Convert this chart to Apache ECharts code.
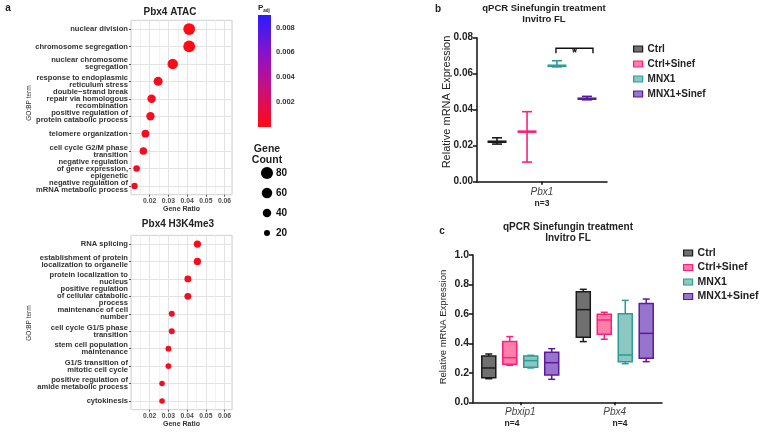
<!DOCTYPE html>
<html>
<head>
<meta charset="utf-8">
<script src="https://cdn.jsdelivr.net/npm/echarts@6/dist/echarts.min.js"></script>
<style>
html, body { margin: 0; padding: 0; background: #fff; }
#chart { width: 766px; height: 434px; }
</style>
</head>
<body>
<div id="chart"></div>
<script>
// panel a - GO:BP dot plots
var atacTerms = ['nuclear division', 'chromosome segregation', 'nuclear chromosome\nsegregation',
  'response to endoplasmic\nreticulum stress', 'double\u2212strand break\nrepair via homologous\nrecombination',
  'positive regulation of\nprotein catabolic process', 'telomere organization',
  'cell cycle G2/M phase\ntransition', 'negative regulation\nof gene expression,\nepigenetic',
  'negative regulation of\nmRNA metabolic process'];
var atacRatio = [0.0411, 0.0411, 0.0323, 0.0245, 0.0210, 0.0204, 0.0177, 0.0166, 0.0130, 0.0119];
var atacCount = [76, 76, 60, 45, 39, 38, 33, 31, 24, 22];
var atacPadj = [0.00002, 0.00002, 0.0001, 0.0002, 0.0003, 0.0003, 0.0004, 0.0004, 0.0005, 0.0005];

var h3kTerms = ['RNA splicing', 'establishment of protein\nlocalization to organelle',
  'protein localization to\nnucleus', 'positive regulation\nof cellular catabolic\nprocess',
  'maintenance of cell\nnumber', 'cell cycle G1/S phase\ntransition', 'stem cell population\nmaintenance',
  'G1/S transition of\nmitotic cell cycle', 'positive regulation of\namide metabolic process', 'cytokinesis'];
var h3kRatio = [0.0455, 0.0455, 0.0404, 0.0404, 0.0318, 0.0318, 0.0300, 0.0300, 0.0266, 0.0266];
var h3kCount = [29, 29, 26, 26, 20, 20, 19, 19, 17, 17];
var h3kPadj = [0.0001, 0.0001, 0.0002, 0.0002, 0.0003, 0.0003, 0.0003, 0.0003, 0.0004, 0.0004];

var padjTicks = [0.002, 0.004, 0.006, 0.008];
var countLegend = ['20', '40', '60', '80'];

// panel b / c - qPCR
var groups = ['Ctrl', 'Ctrl+Sinef', 'MNX1', 'MNX1+Sinef'];
var bCategories = ['Pbx1'];
// [mean, low, high]
var bCtrl = [0.0222, 0.0209, 0.0244];
var bCtrlSinef = [0.0278, 0.0109, 0.0389];
var bMnx1 = [0.0644, 0.0638, 0.0672];
var bMnx1Sinef = [0.0461, 0.0455, 0.0474];
var bSig = [0.0741, 0.0713];

var cCategories = ['Pbxip1', 'Pbx4'];
// [min, q1, median, q3, max] per category
var cCtrl = [[0.160, 0.167, 0.233, 0.314, 0.328], [0.412, 0.441, 0.629, 0.751, 0.767]];
var cCtrlSinef = [[0.251, 0.258, 0.303, 0.412, 0.446], [0.428, 0.462, 0.559, 0.597, 0.611]];
var cMnx1 = [[0.233, 0.238, 0.283, 0.314, 0.319], [0.262, 0.276, 0.321, 0.602, 0.692]];
var cMnx1Sinef = [[0.156, 0.186, 0.269, 0.339, 0.364], [0.276, 0.299, 0.468, 0.670, 0.701]];

var strokeCol = ['#1a1a1a', '#ff1f7a', '#2e9c96', '#5b1a9c'];
var fillCol = ['#707070', '#ff7fab', '#8cc7c2', '#9875cc'];
var bOffsets = [-0.346, -0.115, 0.115, 0.346];
var cOffsets = [-0.333, -0.111, 0.111, 0.333];

var font = 'Liberation Sans, Arial, sans-serif';
var chart = echarts.init(document.getElementById('chart'));

function dotSize(v) {
  return 1.35 * Math.sqrt(v[2]);
}

function dotGrid(top, bottom) {
  return { left: 131, width: 101, top: top, height: bottom - top, show: true,
    borderColor: '#cfcfcf', borderWidth: 1, backgroundColor: '#fff', containLabel: false, outerBoundsMode: 'none' };
}

function ratioAxis(gi) {
  return {
    gridIndex: gi, type: 'value', min: 0.01, max: 0.064, interval: 0.01,
    name: 'Gene Ratio', nameLocation: 'middle', nameGap: 10,
    nameTextStyle: { fontSize: 7, fontWeight: 'bold', color: '#333', fontFamily: font },
    axisLine: { show: false },
    axisTick: { show: true, length: 2, lineStyle: { color: '#555' } },
    axisLabel: { fontSize: 6.8, fontWeight: 'bold', color: '#4d4d4d', margin: 3, showMinLabel: false, showMaxLabel: false, fontFamily: font },
    splitLine: { show: true, lineStyle: { color: '#e3e3e3', width: 1 } },
    minorTick: { show: false, splitNumber: 2 },
    minorSplitLine: { show: true, lineStyle: { color: '#f1f1f1', width: 1 } }
  };
}

function termAxis(gi, terms) {
  return {
    gridIndex: gi, type: 'category', data: terms, inverse: true,
    axisLine: { show: false },
    axisTick: { show: true, alignWithLabel: true, length: 2, lineStyle: { color: '#555' } },
    axisLabel: { fontSize: 7.6, fontWeight: 'bold', color: '#333', lineHeight: 7, margin: 3, interval: 0, fontFamily: font },
    splitLine: { show: false }
  };
}

function dotSeries(gi, ratio, count, padj) {
  return {
    type: 'scatter', xAxisIndex: gi, yAxisIndex: gi, z: 3,
    data: ratio.map(function (r, i) { return [r, i, count[i], padj[i]]; }),
    symbolSize: dotSize,
    itemStyle: { opacity: 1 },
    markLine: {
      silent: true, symbol: 'none', z: 1, label: { show: false },
      lineStyle: { color: '#e3e3e3', width: 1, type: 'solid' },
      data: ratio.map(function (r, i) { return { yAxis: i }; })
    }
  };
}

function errRender(gi) {
  return function (params, api) {
    var cat = api.value(0);
    var band = api.size([1, 0])[0];
    var cx = api.coord([cat, 0])[0] + bOffsets[gi] * band;
    var yM = api.coord([cat, api.value(1)])[1];
    var yLo = api.coord([cat, api.value(2)])[1];
    var yHi = api.coord([cat, api.value(3)])[1];
    var st = { stroke: strokeCol[gi], lineWidth: 1.6 };
    return { type: 'group', children: [
      { type: 'line', shape: { x1: cx, y1: yLo, x2: cx, y2: yHi }, style: st },
      { type: 'line', shape: { x1: cx - 5, y1: yLo, x2: cx + 5, y2: yLo }, style: st },
      { type: 'line', shape: { x1: cx - 5, y1: yHi, x2: cx + 5, y2: yHi }, style: st },
      { type: 'line', shape: { x1: cx - 9.5, y1: yM, x2: cx + 9.5, y2: yM }, style: { stroke: strokeCol[gi], lineWidth: 2.6 } }
    ] };
  };
}

function boxRender(gi) {
  return function (params, api) {
    var cat = api.value(0);
    var band = api.size([1, 0])[0];
    var cx = api.coord([cat, 0])[0] + cOffsets[gi] * band;
    var y = [1, 2, 3, 4, 5].map(function (d) { return api.coord([cat, api.value(d)])[1]; });
    var hw = 7, cw = 3.5;
    var st = { stroke: strokeCol[gi], lineWidth: 1.5 };
    return { type: 'group', children: [
      { type: 'line', shape: { x1: cx, y1: y[0], x2: cx, y2: y[1] }, style: st },
      { type: 'line', shape: { x1: cx, y1: y[3], x2: cx, y2: y[4] }, style: st },
      { type: 'line', shape: { x1: cx - cw, y1: y[0], x2: cx + cw, y2: y[0] }, style: st },
      { type: 'line', shape: { x1: cx - cw, y1: y[4], x2: cx + cw, y2: y[4] }, style: st },
      { type: 'rect', shape: { x: cx - hw, y: y[3], width: 2 * hw, height: y[1] - y[3] },
        style: { fill: fillCol[gi], stroke: strokeCol[gi], lineWidth: 1.5 } },
      { type: 'line', shape: { x1: cx - hw, y1: y[2], x2: cx + hw, y2: y[2] }, style: st }
    ] };
  };
}

function bracketRender(params, api) {
  var band = api.size([1, 0])[0];
  var x0 = api.coord([0, 0])[0];
  var xa = x0 + bOffsets[2] * band - 1;
  var xb = x0 + bOffsets[3] * band + 6;
  var yTop = api.coord([0, api.value(1)])[1];
  var yLeg = api.coord([0, api.value(2)])[1];
  var st = { stroke: '#111', lineWidth: 1.4, fill: 'none' };
  return { type: 'group', children: [
    { type: 'polyline', shape: { points: [[xa, yLeg], [xa, yTop], [xb, yTop], [xb, yLeg]] }, style: st },
    { type: 'text', x: (xa + xb) / 2, y: yTop - 1, style: { text: '*', fill: '#111', font: 'bold 13px ' + font, align: 'center', verticalAlign: 'top' } }
  ] };
}

function qpcrValueAxis(gi, max, interval, digits, size) {
  return {
    gridIndex: gi, type: 'value', min: 0, max: max, interval: interval,
    axisLine: { show: true, lineStyle: { color: '#111', width: 1.5 } },
    axisTick: { show: true, length: 4, lineStyle: { color: '#111', width: 1.5 } },
    axisLabel: { fontSize: size, fontWeight: 'bold', color: '#222', margin: 4, fontFamily: font,
      formatter: function (v) { return v.toFixed(digits); } },
    splitLine: { show: false }
  };
}

function qpcrCatAxis(gi, cats, margin) {
  return {
    gridIndex: gi, type: 'category', data: cats,
    axisLine: { show: true, lineStyle: { color: '#111', width: 1.5 } },
    axisTick: { show: true, alignWithLabel: true, length: 3, lineStyle: { color: '#111', width: 1.5 } },
    axisLabel: { fontSize: 10, fontStyle: 'italic', color: '#444', margin: margin, fontFamily: font }
  };
}

function legendFor(left, top, gap, size) {
  return {
    orient: 'vertical', left: left, top: top, itemWidth: 9, itemHeight: 6, itemGap: gap,
    selectedMode: false, icon: 'rect',
    textStyle: { fontSize: size, fontWeight: 'bold', color: '#222', fontFamily: font },
    data: groups.map(function (g, i) {
      return { name: g, itemStyle: { color: fillCol[i], borderColor: strokeCol[i], borderWidth: 1.2 } };
    })
  };
}

function txt(text, x, y, size, opts) {
  opts = opts || {};
  return {
    type: 'text', x: x, y: y, rotation: opts.rot || 0, silent: true,
    style: { text: text, fill: opts.color || '#222', align: opts.align || 'center', verticalAlign: 'middle',
      font: (opts.weight || 'bold') + ' ' + size + 'px ' + font }
  };
}

var barGradient = new echarts.graphic.LinearGradient(0, 0, 0, 1, [
  { offset: 0, color: '#2a1cff' },
  { offset: 0.35, color: '#8a12c8' },
  { offset: 0.65, color: '#c8107e' },
  { offset: 1, color: '#ff0a14' }
]);

var series = [
  dotSeries(0, atacRatio, atacCount, atacPadj),
  dotSeries(1, h3kRatio, h3kCount, h3kPadj),
  {
    type: 'bar', xAxisIndex: 2, yAxisIndex: 2, barWidth: '100%', silent: true,
    data: [0.009], itemStyle: { color: barGradient }
  },
  {
    type: 'scatter', xAxisIndex: 3, yAxisIndex: 3, silent: true,
    data: countLegend.map(function (c, i) { return [0, i, +c]; }),
    symbolSize: dotSize, itemStyle: { color: '#000', opacity: 1 }
  }
];

[bCtrl, bCtrlSinef, bMnx1, bMnx1Sinef].forEach(function (v, gi) {
  series.push({
    type: 'custom', name: groups[gi], xAxisIndex: 4, yAxisIndex: 4,
    itemStyle: { color: fillCol[gi], borderColor: strokeCol[gi] },
    encode: { x: 0, y: [1, 2, 3] },
    data: [[0, v[0], v[1], v[2]]],
    renderItem: errRender(gi)
  });
});
series.push({
  type: 'custom', xAxisIndex: 4, yAxisIndex: 4, silent: true,
  encode: { x: 0, y: [1, 2] },
  data: [[0, bSig[0], bSig[1]]],
  renderItem: bracketRender
});
[cCtrl, cCtrlSinef, cMnx1, cMnx1Sinef].forEach(function (v, gi) {
  series.push({
    type: 'custom', name: groups[gi], xAxisIndex: 5, yAxisIndex: 5,
    itemStyle: { color: fillCol[gi], borderColor: strokeCol[gi] },
    encode: { x: 0, y: [1, 2, 3, 4, 5] },
    data: v.map(function (row, i) { return [i].concat(row); }),
    renderItem: boxRender(gi)
  });
});

var option = {
  animation: false,
  backgroundColor: '#fff',
  textStyle: { fontFamily: font },
  grid: [
    dotGrid(20.3, 194.7),
    dotGrid(235.3, 409.7),
    { left: 258, width: 13, top: 15, height: 112, containLabel: false, outerBoundsMode: 'none' },
    { left: 261, width: 12, top: 163, height: 80, containLabel: false, outerBoundsMode: 'none' },
    { left: 477, width: 130, top: 37.7, height: 144, containLabel: false, outerBoundsMode: 'none' },
    { left: 473, width: 189, top: 255, height: 147.3, containLabel: false, outerBoundsMode: 'none' }
  ],
  xAxis: [
    ratioAxis(0),
    ratioAxis(1),
    { gridIndex: 2, type: 'category', data: ['p'], show: false },
    { gridIndex: 3, type: 'category', data: ['n'], show: false },
    qpcrCatAxis(4, bCategories, 6),
    qpcrCatAxis(5, cCategories, 5)
  ],
  yAxis: [
    termAxis(0, atacTerms),
    termAxis(1, h3kTerms),
    {
      gridIndex: 2, type: 'value', position: 'right', min: 0, max: 0.009, interval: 0.002,
      axisLine: { show: false }, axisTick: { show: false }, splitLine: { show: false },
      axisLabel: { fontSize: 7.5, fontWeight: 'bold', color: '#333', margin: 5, fontFamily: font,
        showMinLabel: false, showMaxLabel: false,
        formatter: function (v) { return padjTicks.indexOf(+v.toFixed(3)) >= 0 ? v.toFixed(3) : ''; } }
    },
    {
      gridIndex: 3, type: 'category', position: 'right', data: countLegend,
      axisLine: { show: false }, axisTick: { show: false },
      axisLabel: { fontSize: 10, fontWeight: 'bold', color: '#111', margin: 3, fontFamily: font }
    },
    qpcrValueAxis(4, 0.08, 0.02, 2, 10),
    qpcrValueAxis(5, 1.0, 0.2, 1, 10.5)
  ],
  visualMap: {
    show: false, type: 'continuous', seriesIndex: [0, 1], dimension: 3, min: 0, max: 0.009,
    inRange: { color: ['#ff0a14', '#c8107e', '#8a12c8', '#2a1cff'] }
  },
  legend: [
    legendFor(628, 39, 5, 10),
    legendFor(678, 242.5, 3.5, 10.5)
  ],
  graphic: [
    txt('a', 8, 8, 10),
    txt('Pbx4 ATAC', 170, 12, 10),
    txt('GO:BP term', 29, 103, 6.5, { rot: Math.PI / 2, weight: 'normal', color: '#333' }),
    txt('Pbx4 H3K4me3', 178, 224, 10),
    txt('GO:BP term', 29, 323, 6.5, { rot: Math.PI / 2, weight: 'normal', color: '#333' }),
    {
      type: 'text', x: 258, y: 8, silent: true,
      style: { text: '{p|P}{s|adj}', align: 'left', verticalAlign: 'middle',
        rich: { p: { font: 'bold 8px ' + font, fill: '#222' },
                s: { font: 'bold 4.5px ' + font, fill: '#222', padding: [5, 0, 0, 0] } } }
    },
    txt('Gene', 267, 149, 10.5),
    txt('Count', 267, 160, 10.5),
    txt('b', 438, 9, 10),
    txt('qPCR Sinefungin treatment', 544, 8, 9.5),
    txt('Invitro FL', 544, 19, 9.5),
    txt('Relative mRNA Expression', 447, 102, 11, { rot: Math.PI / 2, weight: 'normal' }),
    txt('n=3', 542, 204, 8.5),
    txt('c', 442, 231, 10),
    txt('qPCR Sinefungin treatment', 568, 227, 10),
    txt('Invitro FL', 568, 238, 10),
    txt('Relative mRNA Expression', 443, 327, 9.5, { rot: Math.PI / 2, weight: 'normal' }),
    txt('n=4', 512, 424, 8.5),
    txt('n=4', 620, 424, 8.5)
  ],
  series: series
};

chart.setOption(option);
</script>
</body>
</html>
